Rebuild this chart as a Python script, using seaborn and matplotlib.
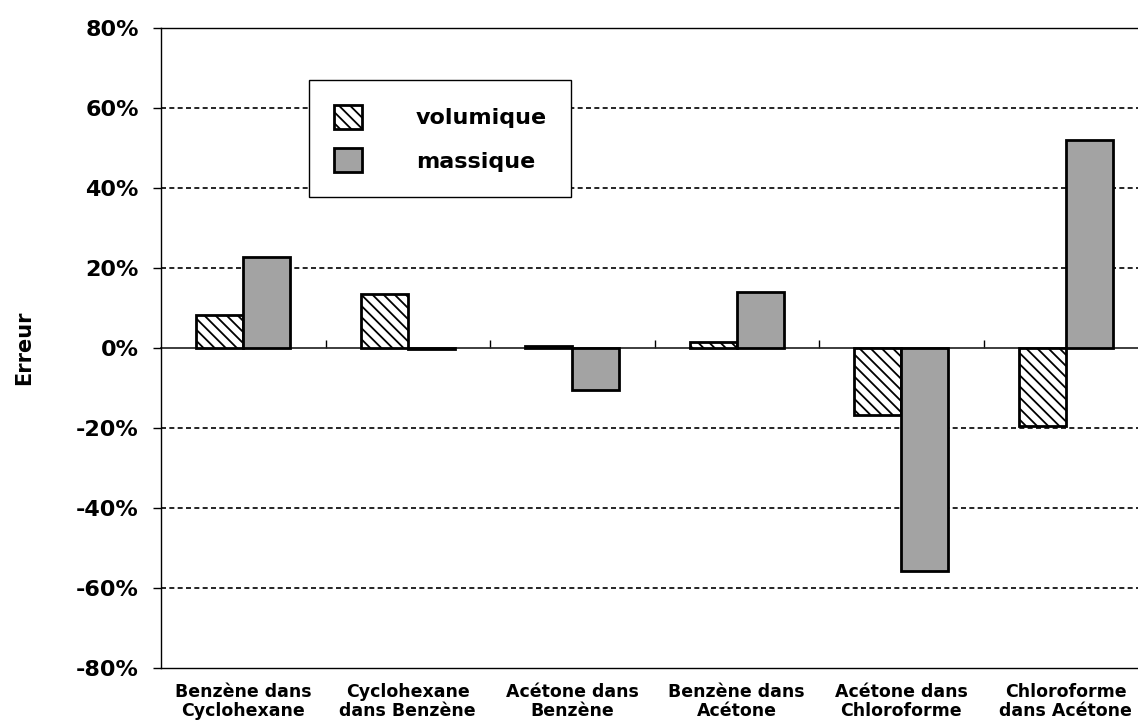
import matplotlib
matplotlib.use("Agg")
import matplotlib.pyplot as plt
import seaborn as sns
import pandas as pd

categories = [
    "Benzène dans\nCyclohexane",
    "Cyclohexane\ndans Benzène",
    "Acétone dans\nBenzène",
    "Benzène dans\nAcétone",
    "Acétone dans\nChloroforme",
    "Chloroforme\ndans Acétone",
]
volumique = [8.2, 13.6, 0.5, 1.6, -16.8, -19.5]
massique = [22.8, -0.3, -10.6, 14.0, -55.8, 52.0]
series_names = ["volumique", "massique"]
y_ticks = [-80, -60, -40, -20, 0, 20, 40, 60, 80]

df = pd.DataFrame({
    "cat": categories * 2,
    "val": volumique + massique,
    "type": [series_names[0]] * len(categories) + [series_names[1]] * len(categories),
})

sns.set_theme(style="white")
plt.rcParams["font.family"] = ["DejaVu Sans"]
plt.rcParams["hatch.linewidth"] = 1.3
plt.rcParams["text.color"] = "black"
plt.rcParams["axes.labelcolor"] = "black"
plt.rcParams["xtick.color"] = "black"
plt.rcParams["ytick.color"] = "black"

fig = plt.figure(figsize=(11.38, 7.22), dpi=100)
ax = fig.add_axes([0.1415, 0.0748, 0.8673, 0.8864])

sns.barplot(
    data=df, x="cat", y="val", hue="type", hue_order=series_names,
    palette={"volumique": "white", "massique": "#a3a3a3"},
    width=0.57, gap=0, edgecolor="black", linewidth=2.0,
    saturation=1, ax=ax, zorder=3, legend=False,
)

for patch in ax.containers[0].patches:
    patch.set_hatch("\\\\\\")

ax.set_ylim(-80, 80)
ax.set_xlim(-0.5, 5.5)
ax.set_yticks(y_ticks)
ax.set_yticklabels([f"{v}%" for v in y_ticks], fontsize=16, fontweight="bold", color="black")
ax.tick_params(axis="y", direction="out", length=6, width=1, pad=10, left=True, colors="black")
ax.tick_params(axis="x", length=0, pad=11)
ax.set_xticks(range(len(categories)))
ax.set_xticklabels(categories, fontsize=12.5, fontweight="bold", linespacing=1.05, color="black")
ax.set_xlabel("")
ax.set_ylabel("Erreur", fontsize=15, fontweight="bold", labelpad=30, color="black")

for v in [-60, -40, -20, 20, 40, 60]:
    ax.axhline(v, color="black", lw=1.2, ls=(0, (3, 2)), zorder=1)

for side in ["left", "top", "bottom", "right"]:
    ax.spines[side].set_visible(True)
    ax.spines[side].set_color("black")
    ax.spines[side].set_linewidth(1.0)

# zero line with category separators
zero_axis = ax.secondary_xaxis(0.5)
zero_axis.set_xticks([0.5, 1.5, 2.5, 3.5, 4.5])
zero_axis.set_xticklabels([])
zero_axis.tick_params(direction="out", length=6, width=1, colors="black")
zero_axis.spines["bottom"].set_linewidth(1.0)

leg = ax.legend(
    handles=list(ax.containers), labels=series_names,
    loc="upper left", bbox_to_anchor=(0.150, 0.918),
    prop={"weight": "bold", "size": 16},
    frameon=True, fancybox=False, edgecolor="black", framealpha=1,
    handlelength=1.3, handleheight=1.3, handletextpad=2.4,
    labelspacing=0.85, borderpad=1.1, borderaxespad=0,
)
leg.get_frame().set_linewidth(1.0)
for t in leg.get_texts():
    t.set_color("black")
leg.set_zorder(5)

fig.savefig("out.png", dpi=100)
